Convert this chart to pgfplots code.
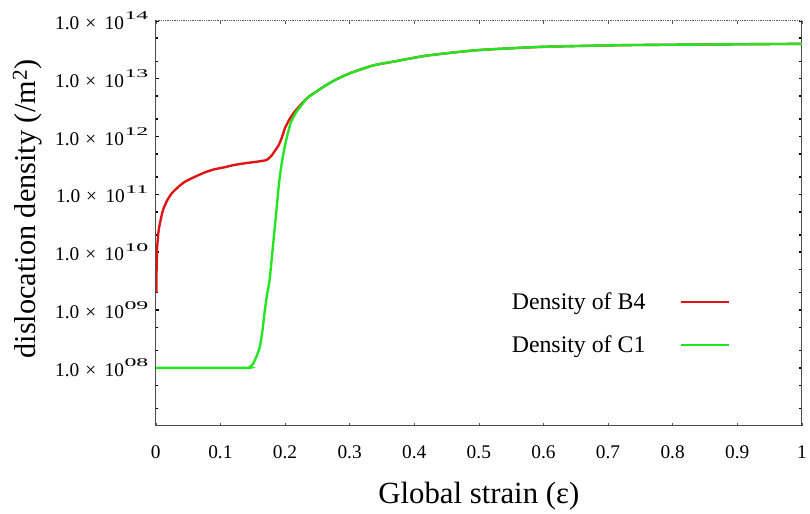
\documentclass[border=0pt]{standalone}
\usepackage{fontspec}
\setmainfont{Liberation Serif}
\usepackage{graphicx}
\usepackage{pgfplots}
\pgfplotsset{compat=1.18}
\definecolor{cred}{RGB}{225,20,20}
\definecolor{cgreen}{RGB}{35,230,35}
\newcommand{\sci}[1]{1.0\hspace{6pt}\texttimes\hspace{8.5pt}10\hspace{0.5pt}\raisebox{0.5em}{\scalebox{2.0}[1.0]{\fontsize{12}{12}\selectfont #1}}}
\begin{document}
\begin{tikzpicture}
\begin{axis}[
  scale only axis, width=651pt, height=408pt,
  xmin=0, xmax=1, ymode=log, ymin=1e7, ymax=1e14,
  xtick={0,0.1,0.2,0.3,0.4,0.5,0.6,0.7,0.8,0.9,1},
  xticklabels={0,0.1,0.2,0.3,0.4,0.5,0.6,0.7,0.8,0.9,1},
  ytick={1e8,1e9,1e10,1e11,1e12,1e13,1e14},
  yticklabels={\sci{08},\sci{09},\sci{10},\sci{11},\sci{12},\sci{13},\sci{14}},
  minor ytick={2e7,5e7,2e8,5e8,2e9,5e9,2e10,5e10,2e11,5e11,2e12,5e12,2e13,5e13},
  ticklabel style={font=\fontsize{19.5}{22}\selectfont},
  xticklabel style={yshift=-17pt},
  yticklabel style={xshift=-4pt},
  xtick style={gray!70!black, line width=0.6pt},
  ytick style={black, line width=1.5pt},
  major tick length=3pt, minor tick length=2.5pt,
  axis line style={gray!60!black, line width=0.8pt},
  xlabel={Global strain (ε)},
  xlabel style={font=\fontsize{31}{34}\selectfont, yshift=-16pt},
  legend style={draw=none, fill=none, at={(rel axis cs:0.894,0.338)}, anchor=north east,
    font=\fontsize{24}{28}\selectfont, row sep=21pt, legend cell align=left},
  legend plot pos=right,
  legend image code/.code={\path (0pt,0pt); \draw[#1] (33pt,0pt) -- (81pt,0pt);},
  after end axis/.code={
    \draw[white, line width=1.2pt] (rel axis cs:0,1) -- (rel axis cs:1,1);
    \draw[gray!70!black, densely dotted, line width=0.8pt] (rel axis cs:0,1) -- (rel axis cs:1,1);
    \path (rel axis cs:0,1) -- ++(0pt,21pt);
    \path (rel axis cs:0,0) -- ++(-157pt,-82pt);
    \path (rel axis cs:1,0) -- ++(2pt,0pt);
    \path (rel axis cs:0,0.535) ++(-121pt,0pt) node[rotate=90, anchor=base, font=\fontsize{30.5}{34}\selectfont, inner sep=0pt] {dislocation density (/m\textsuperscript{2})};
  },
]
\addplot[cred, line width=2.4pt, smooth, tension=0.35] coordinates {
(0.0008,2.0e9) (0.0012,5e9) (0.002,1.15e10) (0.004,2.2e10) (0.006,3.0e10) (0.009,4.3e10)
(0.012,5.7e10) (0.018,8e10) (0.025,1.05e11) (0.035,1.35e11) (0.045,1.65e11) (0.06,2.0e11)
(0.076,2.4e11) (0.09,2.7e11) (0.107,2.95e11) (0.12,3.2e11) (0.138,3.45e11) (0.155,3.65e11)
(0.171,3.9e11) (0.175,4.2e11) (0.180,4.8e11) (0.185,5.8e11) (0.19,7.0e11) (0.195,9.5e11)
(0.2,1.4e12) (0.207,2.0e12) (0.214,2.6e12) (0.222,3.3e12) (0.235,4.7e12)
(0.261,7.4e12) (0.28,9.8e12) (0.302,1.26e13) (0.337,1.7e13) (0.371,2.0e13) (0.419,2.5e13)
(0.496,3.1e13) (0.598,3.55e13) (0.727,3.8e13) (0.854,3.9e13) (1.0,4.0e13)
};
\addlegendentry{Density of B4}
\addplot[cgreen, line width=2.4pt, smooth, tension=0.35] coordinates {
(0,1e8) (0.140,1e8) (0.145,1.03e8) (0.1505,1.17e8) (0.156,1.6e8) (0.161,2.3e8) (0.165,4.3e8)
(0.168,8.5e8) (0.172,1.8e9) (0.176,3.2e9) (0.181,1.17e10) (0.186,4.4e10) (0.191,1.66e11)
(0.195,3.5e11) (0.199,6.2e11) (0.204,1.1e12) (0.209,1.74e12) (0.217,2.6e12) (0.225,3.4e12)
(0.235,4.7e12) (0.261,7.4e12) (0.28,9.8e12) (0.302,1.26e13) (0.337,1.7e13) (0.371,2.0e13)
(0.419,2.5e13) (0.496,3.1e13) (0.598,3.55e13) (0.727,3.8e13) (0.854,3.9e13) (1.0,4.0e13)
};
\addlegendentry{Density of C1}
\end{axis}
\end{tikzpicture}
\end{document}
